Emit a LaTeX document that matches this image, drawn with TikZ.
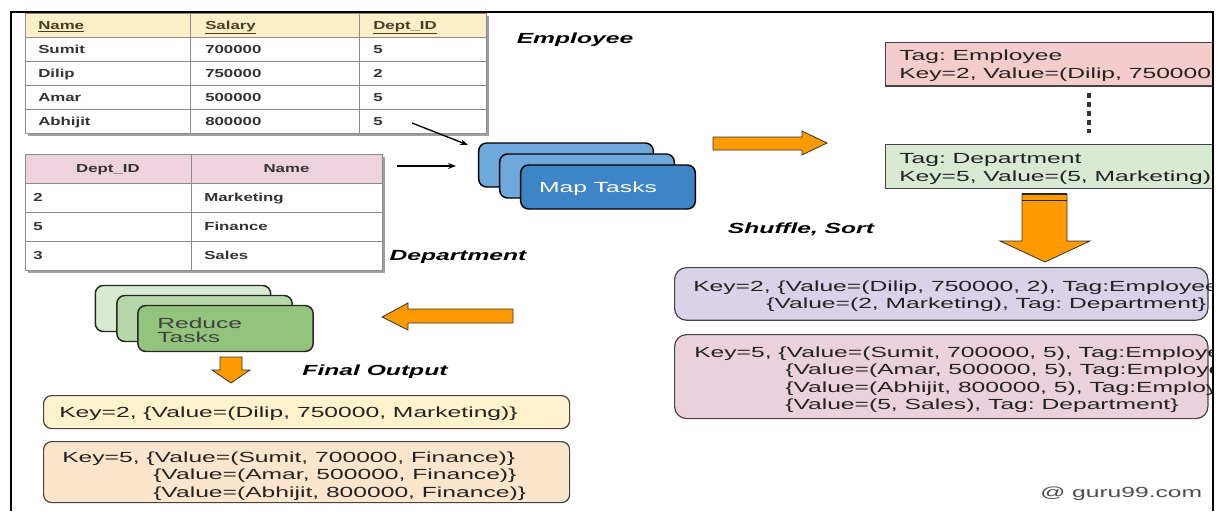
\documentclass[tikz,border=0pt]{standalone}
\usepackage{fontspec}
\setmainfont{Liberation Sans}[FakeStretch=1.68]
\newfontfamily\tabfont{Liberation Sans}[FakeStretch=1.45]
\usetikzlibrary{arrows.meta}
\frenchspacing
\definecolor{mapL}{HTML}{6FA8DC}
\definecolor{mapD}{HTML}{3D85C6}
\definecolor{redA}{HTML}{D9EAD3}
\definecolor{redB}{HTML}{B6D7A8}
\definecolor{redC}{HTML}{93C47D}
\definecolor{tagEc}{HTML}{F4CCCC}
\definecolor{tagDc}{HTML}{D9EAD3}
\definecolor{purp}{HTML}{D9D2E9}
\definecolor{pinkc}{HTML}{EAD1DC}
\definecolor{yell}{HTML}{FFF2CC}
\definecolor{peach}{HTML}{FCE5CD}
\definecolor{orng}{HTML}{FF9900}
\definecolor{emphead}{HTML}{FCEFC8}
\definecolor{dephead}{HTML}{EED3DF}
\definecolor{txtc}{HTML}{222222}
\definecolor{tabc}{HTML}{333333}
\definecolor{headc}{HTML}{4A3C22}
\definecolor{cellc}{HTML}{8C8C8C}
\definecolor{shadc}{HTML}{A0A0A0}
\definecolor{bordc}{HTML}{444444}
\begin{document}
\frenchspacing
\begin{tikzpicture}[x=0.75pt,y=-0.75pt,
  txt/.style={anchor=base west, inner sep=0pt, font=\fontsize{11}{13}\selectfont, text=txtc},
  lbl/.style={anchor=base, inner sep=0pt, font=\fontsize{11}{13}\selectfont\bfseries\itshape, text=black},
  tabtxt/.style={anchor=base west, inner sep=0pt, font=\tabfont\fontsize{8.7}{10}\selectfont\bfseries, text=tabc},
  tabhead/.style={tabtxt, text=headc},
  tabheadc/.style={tabtxt, anchor=base},
  cellline/.style={draw=cellc, line width=0.6pt},
  arrowshape/.style={fill=orng, draw=black!80, line width=0.6pt},
  task/.style={draw=black, line width=1.1pt, rounded corners=6pt, minimum width=131pt, minimum height=33pt, inner sep=0pt},
  rtask/.style={draw=black!85, line width=1.1pt, rounded corners=6pt, minimum width=131.5pt, minimum height=34.5pt, inner sep=0pt},
  tagbox/.style={draw=bordc, line width=1.1pt, anchor=north west, minimum width=300pt, minimum height=32.5pt, inner sep=0pt},
  keybox/.style={draw=bordc, line width=0.9pt, anchor=north west, rounded corners=9pt, minimum width=400pt, inner sep=0pt},
  outbox/.style={draw=bordc, line width=0.9pt, anchor=north west, rounded corners=6pt, minimum width=394.5pt, inner sep=0pt},
  feedarrow/.style={-{Stealth[length=6pt,width=4.5pt]}, line width=1pt, black},
]
\useasboundingbox (0,0) rectangle (1218,511);

% ---------- Employee table ----------
\fill[shadc] (27.5,15.5) rectangle (488.5,135.5);
\fill[white] (25,13) rectangle (486,133);
\fill[emphead] (25,13) rectangle (486,37);
\draw[cellline] (25,13) rectangle (486,133);
\foreach \yy in {37,61,85,109} \draw[cellline] (25,\yy) -- (486,\yy);
\foreach \xx in {190,359} \draw[cellline] (\xx,13) -- (\xx,133);
\node[tabhead] (eh1) at (38,29) {\underline{Name}};
\node[tabhead] (eh2) at (205,29) {\underline{Salary}};
\node[tabhead] (eh3) at (373,29) {\underline{Dept\_ID}};
\node[tabtxt] (e11) at (38,53) {Sumit};
\node[tabtxt] (e12) at (205,53) {700000};
\node[tabtxt] (e13) at (373,53) {5};
\node[tabtxt] (e21) at (38,77) {Dilip};
\node[tabtxt] (e22) at (205,77) {750000};
\node[tabtxt] (e23) at (373,77) {2};
\node[tabtxt] (e31) at (38,101) {Amar};
\node[tabtxt] (e32) at (205,101) {500000};
\node[tabtxt] (e33) at (373,101) {5};
\node[tabtxt] (e41) at (38,125) {Abhijit};
\node[tabtxt] (e42) at (205,125) {800000};
\node[tabtxt] (e43) at (373,125) {5};

% ---------- Department table ----------
\fill[shadc] (27.5,156.5) rectangle (384.5,272.5);
\fill[white] (25,154) rectangle (382,270);
\fill[dephead] (25,154) rectangle (382,183);
\draw[cellline] (25,154) rectangle (382,270);
\foreach \yy in {183,212,241} \draw[cellline] (25,\yy) -- (382,\yy);
\draw[cellline] (191,154) -- (191,270);
\node[tabheadc] (dh1) at (108,172.5) {Dept\_ID};
\node[tabheadc] (dh2) at (286.5,172.5) {Name};
\node[tabtxt] (d11) at (33,201.5) {2};
\node[tabtxt] (d12) at (204,201.5) {Marketing};
\node[tabtxt] (d21) at (33,230.5) {5};
\node[tabtxt] (d22) at (204,230.5) {Finance};
\node[tabtxt] (d31) at (33,259.5) {3};
\node[tabtxt] (d32) at (204,259.5) {Sales};

% ---------- labels ----------
\node[lbl] (lemp) at (575,43) {Employee};
\node[lbl] (ldep) at (458,260) {Department};
\node[lbl] (lshuf) at (801,233) {Shuffle, Sort};
\node[lbl] (lfin) at (375,375) {Final Output};

% ---------- feed arrows ----------
\coordinate (f1s) at (412,123);
\coordinate (f1e) at (468,145);
\coordinate (f2s) at (397,166);
\coordinate (f2e) at (456,166);
\draw[feedarrow] (f1s) -- (f1e);
\draw[feedarrow] (f2s) -- (f2e);

% ---------- Map tasks ----------
\node[task, fill=mapL] (map1) at (566,165) {};
\node[task, fill=mapL] (map2) at (587,176) {};
\node[task, fill=mapD] (map3) at (608,187) {};
\node[anchor=base, inner sep=0pt, font=\fontsize{11}{13}\selectfont, text=white] (maplbl) at (598,192) {Map Tasks};

% ---------- orange arrows ----------
\draw[arrowshape] (713,137) -- (802,137) -- (802,131) -- (827,143) -- (802,155) -- (802,150) -- (713,150) -- cycle;
\draw[arrowshape] (1022,194) -- (1067,194) -- (1067,241) -- (1090,241) -- (1045,262) -- (1000,241) -- (1022,241) -- cycle;
\draw[black!85, line width=1.5pt] (1022,194) -- (1067,194);
\draw[black!85, line width=1pt] (1022,200.5) -- (1067,200.5);
\draw[arrowshape] (513,309) -- (408,309) -- (408,303) -- (382,317) -- (408,330) -- (408,323) -- (513,323) -- cycle;
\draw[arrowshape] (220,357) -- (242,357) -- (242,370) -- (250,370) -- (231,383) -- (212,370) -- (220,370) -- cycle;

% ---------- right side (clipped by frame) ----------
\begin{scope}
\clip (0,0) rectangle (1212.5,511);
\node[tagbox, fill=tagEc] (tagE) at (885,42) {};
\node[tagbox, fill=tagDc, minimum height=33pt] (tagD) at (885,144) {};
\node[txt] (tagE1) at (899,60) {Tag: Employee};
\node[txt] (tagE2) at (899,78) {Key=2, Value=(Dilip, 750000, 2)};
\node[txt] (tagD1) at (899,163) {Tag: Department};
\node[txt] (tagD2) at (899,181) {Key=5, Value=(5, Marketing)};
\node[keybox, fill=purp, minimum height=39.5pt] (k2) at (674,267) {};
\node[txt] (k2a) at (693,291) {Key=2, \{Value=(Dilip, 750000, 2), Tag:Employee\}};
\node[txt] (k2b) at (766,308) {\{Value=(2, Marketing), Tag: Department\}};
\node[keybox, fill=pinkc, minimum height=63pt] (k5) at (674,334) {};
\node[txt] (k5a) at (694,357) {Key=5, \{Value=(Sumit, 700000, 5), Tag:Employee\}};
\node[txt] (k5b) at (785,374.5) {\{Value=(Amar, 500000, 5), Tag:Employee\}};
\node[txt] (k5c) at (785,392) {\{Value=(Abhijit, 800000, 5), Tag:Employee\}};
\node[txt] (k5d) at (785,409.5) {\{Value=(5, Sales), Tag: Department\}};
\end{scope}
\coordinate (dotx) at (1089,0);
\draw[black!80, line width=2.4pt, dash pattern=on 3.8pt off 3pt] ([yshift=-4.5pt]tagE.south -| dotx) -- ([yshift=8.5pt]tagD.north -| dotx);

% ---------- Reduce tasks ----------
\node[rtask, fill=redA] (red1) at (183,308.5) {};
\node[rtask, fill=redB] (red2) at (204.5,318.5) {};
\node[rtask, fill=redC] (red3) at (225.5,328.5) {};
\node[txt, text=black!75] (redl1) at (157,328) {Reduce};
\node[txt, text=black!75] (redl2) at (157,342) {Tasks};

% ---------- Final output ----------
\node[outbox, fill=yell, minimum height=24.75pt] (o2) at (43,395) {};
\node[txt] (o2a) at (59,417) {Key=2, \{Value=(Dilip, 750000, Marketing)\}};
\node[outbox, fill=peach, minimum height=45.75pt] (o5) at (43,441) {};
\node[txt] (o5a) at (62,462) {Key=5, \{Value=(Sumit, 700000, Finance)\}};
\node[txt] (o5b) at (153,479.5) {\{Value=(Amar, 500000, Finance)\}};
\node[txt] (o5c) at (153,497) {\{Value=(Abhijit, 800000, Finance)\}};

\node[txt, text=black!70] (wm) at (1040,497) {@ guru99.com};

% ---------- frame ----------
\draw[black, line width=1.1pt] (11,511) -- (11,12) -- (1213,12) -- (1213,511);
\end{tikzpicture}
\end{document}
